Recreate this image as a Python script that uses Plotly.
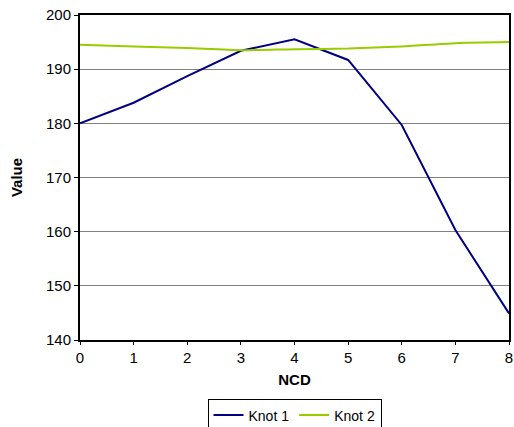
import plotly.graph_objects as go

# NCD steps and the two knot series
ncd = [0, 1, 2, 3, 4, 5, 6, 7, 8]
knot1 = [180.0, 183.8, 188.7, 193.4, 195.5, 191.7, 179.7, 160.3, 144.9]
knot2 = [194.5, 194.2, 193.9, 193.5, 193.7, 193.8, 194.2, 194.8, 195.0]
y_ticks = [140, 150, 160, 170, 180, 190, 200]

fig = go.Figure()
fig.add_trace(go.Scatter(x=ncd, y=knot1, mode="lines", name="Knot 1",
                         line=dict(color="#000080", width=2)))
fig.add_trace(go.Scatter(x=ncd, y=knot2, mode="lines", name="Knot 2",
                         line=dict(color="#99CC00", width=2, shape="spline", smoothing=0.6)))

font_family = "Liberation Sans, Arial, sans-serif"

fig.update_layout(
    width=514, height=427,
    margin=dict(l=80, r=5, t=15, b=87, autoexpand=False),
    paper_bgcolor="white", plot_bgcolor="white",
    font=dict(family=font_family, size=15, color="black"),
    showlegend=True,
    legend=dict(orientation="h", x=0.5, xanchor="center", y=-0.18, yanchor="top",
                bordercolor="black", borderwidth=1, font=dict(size=14),
                itemwidth=30, tracegroupgap=0),
    xaxis=dict(range=[0, 8], tickvals=ncd, showgrid=False, zeroline=False,
               showline=True, linecolor="black", linewidth=2, mirror=True,
               ticks="outside", ticklen=3, tickcolor="black",
               tickfont=dict(size=15),
               title=dict(text="<b>NCD</b>", font=dict(size=15), standoff=9)),
    yaxis=dict(range=[140, 200], tickvals=y_ticks,
               showgrid=True, gridcolor="#808080", gridwidth=1, zeroline=False,
               showline=True, linecolor="black", linewidth=2, mirror=True,
               ticks="outside", ticklen=4, tickcolor="black",
               tickfont=dict(size=15),
               title=dict(text="<b>Value</b>", font=dict(size=15), standoff=20)),
)

fig.write_html("out.html")
